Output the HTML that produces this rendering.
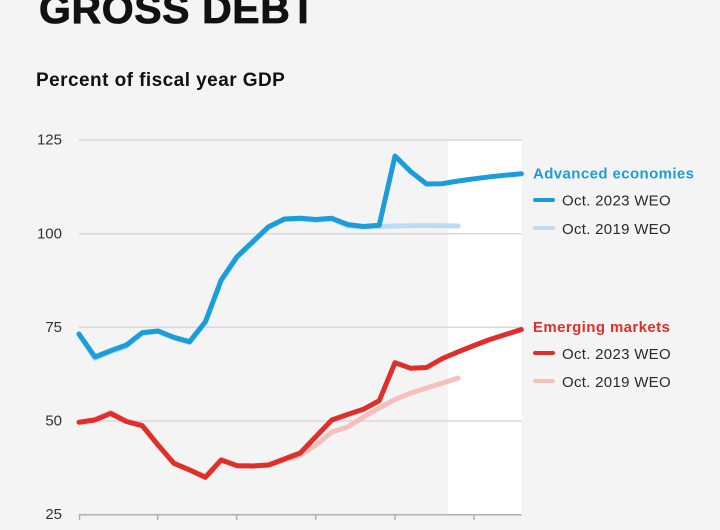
<!DOCTYPE html>
<html>
<head>
<meta charset="utf-8">
<style>
  html, body { margin:0; padding:0; }
  body { width:720px; height:530px; background:#f4f4f4; overflow:hidden; font-family:"Liberation Sans", sans-serif; }
  svg { display:block; }
</style>
</head>
<body>
<svg width="720" height="530" viewBox="0 0 720 530" xmlns="http://www.w3.org/2000/svg">
  <rect x="0" y="0" width="720" height="530" fill="#f4f4f4"/>
  <!-- projection area -->
  <rect x="448.3" y="140.7" width="73.4" height="374" fill="#ffffff"/>

  <!-- title -->
  <text x="39" y="23" font-family="Liberation Sans, sans-serif" font-weight="bold" font-size="41" letter-spacing="0.6" fill="#111" stroke="#111" stroke-width="0.8">GROSS DEBT</text>
  <text x="36" y="86" font-family="Liberation Sans, sans-serif" font-weight="bold" font-size="19" letter-spacing="0.45" fill="#111">Percent of fiscal year GDP</text>

  <!-- gridlines -->
  <g stroke="#d8d8d8" stroke-width="1.5">
    <line x1="79" y1="140" x2="521.7" y2="140"/>
    <line x1="79" y1="233.7" x2="521.7" y2="233.7"/>
    <line x1="79" y1="327.4" x2="521.7" y2="327.4"/>
    <line x1="79" y1="421" x2="521.7" y2="421"/>
  </g>
  <!-- axis -->
  <g stroke="#b0b0b0" stroke-width="1.5">
    <line x1="79" y1="514.7" x2="521.7" y2="514.7"/>
    <line x1="79.5" y1="514.7" x2="79.5" y2="520"/>
    <line x1="157.7" y1="514.7" x2="157.7" y2="520"/>
    <line x1="236.7" y1="514.7" x2="236.7" y2="520"/>
    <line x1="315.7" y1="514.7" x2="315.7" y2="520"/>
    <line x1="395" y1="514.7" x2="395" y2="520"/>
    <line x1="474" y1="514.7" x2="474" y2="520"/>
  </g>

  <!-- y labels -->
  <g font-family="Liberation Sans, sans-serif" font-size="15" fill="#333" text-anchor="end">
    <text x="62" y="144.5">125</text>
    <text x="62" y="238.5">100</text>
    <text x="62" y="332">75</text>
    <text x="62" y="425.5">50</text>
    <text x="62" y="519">25</text>
  </g>

  <!-- Light (2019 WEO) lines -->
  <polyline fill="none" stroke="#bcdcf2" stroke-width="5" stroke-linejoin="round" stroke-linecap="round"
    points="79,335 95,358.5 110.6,352 126.4,346.5 142.2,333.5 158,331.5 173.8,338 189.6,342.5 205.4,322.5 221.2,281 237,257.5 252.8,242.5 268.6,227.5 284.4,219.5 300.2,219 316,220.5 331.8,219 347.6,226 363.4,227 379.2,226.5 395,226 410.8,225.8 426.6,225.6 442.4,225.7 458.2,226"/>
  <polyline fill="none" stroke="#f6bfbc" stroke-width="5" stroke-linejoin="round" stroke-linecap="round"
    points="79,421.8 94.8,419.5 110.6,412.3 126.4,421 142.2,425 158,444.5 173.8,462.8 189.6,469.5 205.4,476.5 221.2,459.5 237,465.3 252.8,465.8 268.6,465 284.4,460 300.2,455 316,445 331.8,432 347.6,427 363.4,417 379.2,408 395,399.5 410.8,393 426.6,388 442.4,383 458.2,378"/>

  <!-- Dark (2023 WEO) lines -->
  <polyline fill="none" stroke="#1b9dd9" stroke-width="5" stroke-linejoin="round" stroke-linecap="round"
    points="79,334 95,357 110.6,350.7 126.4,345 142.2,332.7 158,331 173.8,337.3 189.6,341.7 205.4,321.7 221.2,280 237,256.7 252.8,241.7 268.6,226.7 284.4,219 300.2,218.3 316,219.5 331.8,218.3 347.6,224.5 363.4,226.5 379.2,225.3 395,156 410.8,171.7 426.6,184 442.4,183.7 458.2,181 474,178.8 489.8,176.8 505.6,175.2 521.4,173.8"/>
  <polyline fill="none" stroke="#e02f2a" stroke-width="5" stroke-linejoin="round" stroke-linecap="round"
    points="79,422.3 94.8,420 110.6,413.5 126.4,421.5 142.2,425.7 158,445 173.8,463.3 189.6,470 205.4,477.3 221.2,460 237,465.7 252.8,466 268.6,465 284.4,459 300.2,453 316,436.5 331.8,420 347.6,414.5 363.4,409.3 379.2,400.7 395,362.7 410.8,368.3 426.6,367.5 442.4,358.5 458.2,351.8 474,345.5 489.8,339.5 505.6,334.5 521.4,329.5"/>

  <!-- Legend -->
  <text x="533" y="178.5" font-family="Liberation Sans, sans-serif" font-weight="bold" font-size="15" letter-spacing="0.4" fill="#1b9dd9">Advanced economies</text>
  <line x1="535" y1="200" x2="553" y2="200" stroke="#1b9dd9" stroke-width="4" stroke-linecap="round"/>
  <text x="562" y="205.5" font-family="Liberation Sans, sans-serif" font-size="15" letter-spacing="0.3" fill="#2a2a2a">Oct. 2023 WEO</text>
  <line x1="535" y1="228" x2="553" y2="228" stroke="#bcdcf2" stroke-width="4" stroke-linecap="round"/>
  <text x="562" y="234" font-family="Liberation Sans, sans-serif" font-size="15" letter-spacing="0.3" fill="#2a2a2a">Oct. 2019 WEO</text>

  <text x="533" y="332" font-family="Liberation Sans, sans-serif" font-weight="bold" font-size="15" letter-spacing="0.4" fill="#e02f2a">Emerging markets</text>
  <line x1="535" y1="353" x2="553" y2="353" stroke="#e02f2a" stroke-width="4" stroke-linecap="round"/>
  <text x="562" y="359" font-family="Liberation Sans, sans-serif" font-size="15" letter-spacing="0.3" fill="#2a2a2a">Oct. 2023 WEO</text>
  <line x1="535" y1="381" x2="553" y2="381" stroke="#f6bfbc" stroke-width="4" stroke-linecap="round"/>
  <text x="562" y="387" font-family="Liberation Sans, sans-serif" font-size="15" letter-spacing="0.3" fill="#2a2a2a">Oct. 2019 WEO</text>
</svg>
</body>
</html>
